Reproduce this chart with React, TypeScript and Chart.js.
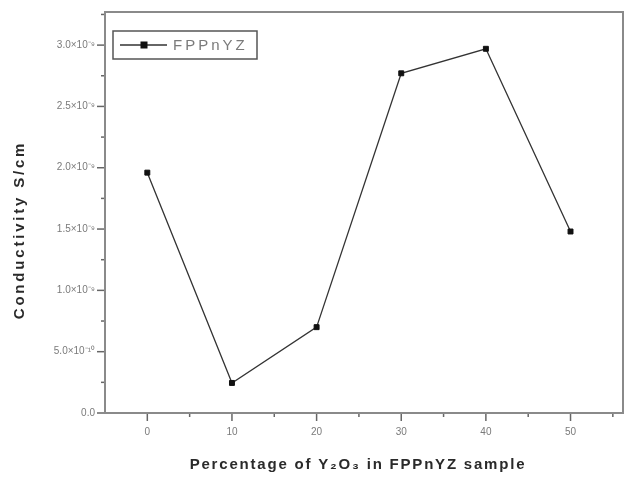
import React, { useEffect, useRef } from "react";
import { Chart, registerables } from "chart.js";

Chart.register(...registerables);

const xValues = [0, 10, 20, 30, 40, 50];
const conductivity = [1.96e-9, 2.45e-10, 7.0e-10, 2.77e-9, 2.97e-9, 1.48e-9];
const seriesName = "FPPnYZ";
const xTicks = [0, 5, 10, 15, 20, 25, 30, 35, 40, 45, 50, 55];
const yTicks = [0, 0.25e-9, 0.5e-9, 0.75e-9, 1.0e-9, 1.25e-9, 1.5e-9, 1.75e-9, 2.0e-9, 2.25e-9, 2.5e-9, 2.75e-9, 3.0e-9, 3.25e-9];
const yLabels: Record<string, string> = {
  "0": "0.0",
  "5e-10": "5.0×10⁻¹⁰",
  "1e-9": "1.0×10⁻⁹",
  "1.5e-9": "1.5×10⁻⁹",
  "2e-9": "2.0×10⁻⁹",
  "2.5e-9": "2.5×10⁻⁹",
  "3e-9": "3.0×10⁻⁹",
};
const xTitle = "Percentage of Y₂O₃ in FPPnYZ sample";
const yTitle = "Conductivity S/cm";

const FRAME = "#8a8a8a";
const TEXT = "#7a7a7a";

function isMajorY(v: number) {
  const r = Math.round(v / 0.5e-9 * 1000) / 1000;
  return Math.abs(r - Math.round(r)) < 1e-6;
}

function setSpacing(ctx: any, s: string) {
  try { ctx.letterSpacing = s; } catch (e) {}
}

const framePlugin = {
  id: "frameAndExtras",
  afterDraw(chart: any) {
    const { ctx, chartArea } = chart;
    const { left, right, top, bottom } = chartArea;
    ctx.save();
    ctx.strokeStyle = FRAME;
    ctx.lineWidth = 2;
    ctx.strokeRect(left, top, right - left, bottom - top);
    const xs = chart.scales.x;
    const ys = chart.scales.y;
    ctx.lineWidth = 1.5;
    ctx.strokeStyle = "#666";
    for (const v of xTicks) {
      const px = xs.getPixelForValue(v);
      const len = v % 10 === 0 ? 7 : 3;
      ctx.beginPath();
      ctx.moveTo(px, bottom + 1);
      ctx.lineTo(px, bottom + 1 + len);
      ctx.stroke();
    }
    for (const v of yTicks) {
      const py = ys.getPixelForValue(v);
      const len = isMajorY(v) ? 7 : 3;
      ctx.beginPath();
      ctx.moveTo(left - 1, py);
      ctx.lineTo(left - 1 - len, py);
      ctx.stroke();
    }
    // titles
    ctx.fillStyle = "#2a2a2a";
    ctx.font = "bold 15px 'Liberation Sans', Arial, sans-serif";
    ctx.textAlign = "center";
    ctx.textBaseline = "middle";
    setSpacing(ctx, "1.8px");
    ctx.fillText(xTitle, 358, 465);
    ctx.save();
    ctx.translate(20, 230);
    ctx.rotate(-Math.PI / 2);
    setSpacing(ctx, "2.8px");
    ctx.fillText(yTitle, 0, 0);
    ctx.restore();
    setSpacing(ctx, "0px");
    // legend
    const lx = 113, ly = 31, lw = 144, lh = 28;
    ctx.strokeStyle = "#555";
    ctx.lineWidth = 1.5;
    ctx.fillStyle = "#fff";
    ctx.fillRect(lx, ly, lw, lh);
    ctx.strokeRect(lx, ly, lw, lh);
    const cy = ly + lh / 2;
    ctx.strokeStyle = "#333";
    ctx.lineWidth = 1.5;
    ctx.beginPath();
    ctx.moveTo(lx + 7, cy);
    ctx.lineTo(lx + 54, cy);
    ctx.stroke();
    ctx.fillStyle = "#111";
    ctx.fillRect(lx + 27.5, cy - 3.5, 7, 7);
    ctx.fillStyle = "#7a7a7a";
    ctx.font = "15px 'Liberation Sans', Arial, sans-serif";
    ctx.textAlign = "left";
    setSpacing(ctx, "3px");
    ctx.fillText(seriesName, lx + 60, cy + 1);
    setSpacing(ctx, "0px");
    ctx.restore();
  },
};

export default function App() {
  const ref = useRef<HTMLCanvasElement | null>(null);
  useEffect(() => {
    if (!ref.current) return;
    const chart = new Chart(ref.current, {
      type: "line",
      data: {
        datasets: [
          {
            label: seriesName,
            data: xValues.map((x, i) => ({ x, y: conductivity[i] })),
            borderColor: "#333",
            borderWidth: 1.3,
            pointStyle: "rect",
            pointRadius: 3.5,
            pointBackgroundColor: "#111",
            pointBorderColor: "#111",
            pointBorderWidth: 1,
            tension: 0,
          },
        ],
      },
      options: {
        animation: false,
        responsive: false,
        maintainAspectRatio: false,
        layout: { padding: { top: 12, right: 3, left: 0, bottom: 0 } },
        plugins: { legend: { display: false }, tooltip: { enabled: false } },
        scales: {
          x: {
            type: "linear",
            min: -5,
            max: 56.2,
            afterBuildTicks: (s: any) => {
              s.ticks = xTicks.map((v) => ({ value: v }));
            },
            afterFit: (s: any) => {
              s.height = 65;
            },
            border: { display: false },
            grid: { drawOnChartArea: false, drawTicks: true, tickLength: 8, color: "transparent" },
            ticks: {
              color: TEXT,
              font: { family: "'Liberation Sans', Arial, sans-serif", size: 10 },
              padding: 5,
              maxRotation: 0,
              autoSkip: false,
              callback: (v: any) => (Number(v) % 10 === 0 ? String(v) : ""),
            },
          },
          y: {
            type: "linear",
            min: 0,
            max: 3.27e-9,
            afterBuildTicks: (s: any) => {
              s.ticks = yTicks.map((v) => ({ value: v }));
            },
            afterFit: (s: any) => {
              s.width = 105;
            },
            border: { display: false },
            grid: { drawOnChartArea: false, drawTicks: true, tickLength: 8, color: "transparent" },
            ticks: {
              color: TEXT,
              font: { family: "'Liberation Sans', Arial, sans-serif", size: 10 },
              padding: 2,
              autoSkip: false,
              callback: (v: any) => {
                const n = Number(v);
                if (!isMajorY(n)) return "";
                const key = String(Number(n.toPrecision(3)));
                return yLabels[key] ?? "";
              },
            },
          },
        },
      },
      plugins: [framePlugin],
    });
    return () => chart.destroy();
  }, []);
  return (
    <div style={{ position: "absolute", left: 0, top: 0, width: 628, height: 478, background: "#fff" }}>
      <canvas ref={ref} width={628} height={478} style={{ width: 628, height: 478 }} />
    </div>
  );
}
